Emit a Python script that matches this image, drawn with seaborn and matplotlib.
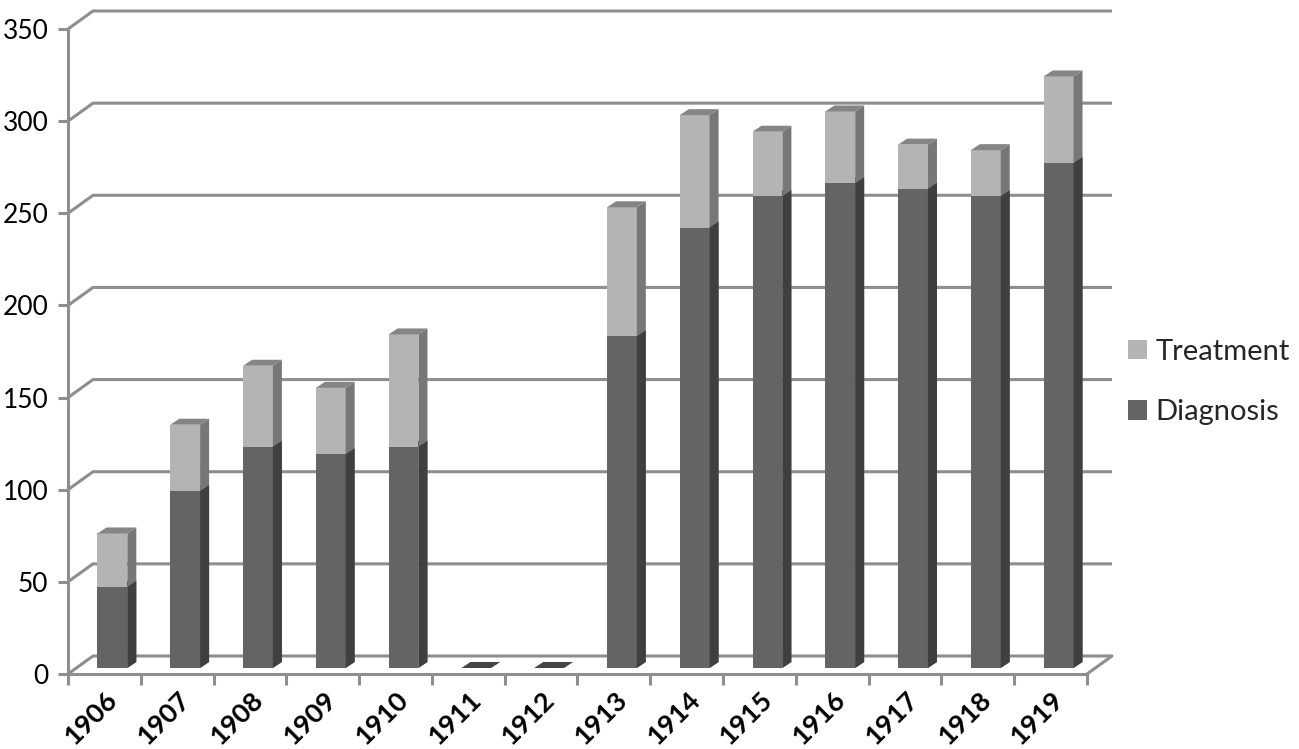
import numpy as np
import pandas as pd
import matplotlib
matplotlib.use("Agg")
import matplotlib.pyplot as plt
import seaborn as sns
from matplotlib.patches import Polygon, Patch
from matplotlib.lines import Line2D
from matplotlib.transforms import ScaledTranslation

# ---- data ----
years = ["1906", "1907", "1908", "1909", "1910", "1911", "1912",
         "1913", "1914", "1915", "1916", "1917", "1918", "1919"]
diagnosis = [44, 96, 120, 116, 120, 0, 0, 180, 239, 256, 263, 260, 256, 274]
treatment = [29, 36, 44, 36, 61, 0, 0, 70, 61, 35, 39, 24, 25, 47]
y_ticks = [0, 50, 100, 150, 200, 250, 300, 350]
series_labels = ["Treatment", "Diagnosis"]

# ---- style ----
DIAG_FRONT, DIAG_SIDE, DIAG_TOP = "#646464", "#3f3f3f", "#454545"
TREAT_FRONT, TREAT_SIDE, TREAT_TOP = "#b4b4b4", "#777777", "#858585"
GRID = "#8e8e8e"
LW = 2.2

sns.set_theme(style="white")
plt.rcParams["font.family"] = ["Lato", "DejaVu Sans"]

W, H = 1299, 749
fig = plt.figure(figsize=(W / 100, H / 100), dpi=100)
ax_l, ax_r, ax_b, ax_t = 68, 1087, 674, 29
ax = fig.add_axes([ax_l / W, (H - ax_b) / H, (ax_r - ax_l) / W, (ax_b - ax_t) / H])

n = len(years)
totals = [d + t for d, t in zip(diagnosis, treatment)]
df = pd.DataFrame({"year": years, "total": totals, "diag": diagnosis})

sns.barplot(data=df, x="year", y="total", color=TREAT_FRONT, width=0.41,
            saturation=1, ax=ax, zorder=3)
sns.barplot(data=df, x="year", y="diag", color=DIAG_FRONT, width=0.41,
            saturation=1, ax=ax, zorder=4)

ax.set_xlim(-0.5, n - 0.5)
ax.set_ylim(0, 350)

px_x = (ax_r - ax_l) / n          # pixels per category
px_y = (ax_b - ax_t) / 350.0      # pixels per unit

# bar plane offset (mid-depth)
bar_tr = ax.transData + ScaledTranslation(8 / 100, 6 / 100, fig.dpi_scale_trans)
sx, sy = 9 / px_x, 6 / px_y  # bar depth in data units

patches = list(ax.patches)
treat_patches = patches[:n]
diag_patches = patches[n:2 * n]

for p in patches:
    p.set_transform(bar_tr)
    p.set_clip_on(False)
    p.set_edgecolor("none")

def side_and_top(p, side_col, top_col, z_side, z_top):
    x0, y0 = p.get_x(), p.get_y()
    w, h = p.get_width(), p.get_height()
    x1, y1 = x0 + w, y0 + h
    side = Polygon([(x1, y0), (x1, y1), (x1 + sx, y1 + sy), (x1 + sx, y0 + sy)],
                   closed=True, facecolor=side_col, edgecolor="none",
                   transform=bar_tr, zorder=z_side, clip_on=False)
    top = Polygon([(x0, y1), (x1, y1), (x1 + sx, y1 + sy), (x0 + sx, y1 + sy)],
                  closed=True, facecolor=top_col, edgecolor="none",
                  transform=bar_tr, zorder=z_top, clip_on=False)
    ax.add_patch(side)
    ax.add_patch(top)

for pt, pd_ in zip(treat_patches, diag_patches):
    if pt.get_height() > pd_.get_height():
        side_and_top(pt, TREAT_SIDE, TREAT_TOP, 3, 3)
        side_and_top(pd_, DIAG_SIDE, DIAG_TOP, 4, 2.9)
    else:
        side_and_top(pd_, DIAG_SIDE, DIAG_TOP, 4, 4)

# ---- back wall gridlines with oblique connectors ----
gx, gy = 25 / px_x, 18 / px_y
for v in y_ticks:
    ax.add_line(Line2D([-0.5, -0.5 + gx, n - 0.5 + gx], [v, v + gy, v + gy],
                       color=GRID, lw=LW, zorder=1, clip_on=False,
                       solid_capstyle="butt"))
ax.add_line(Line2D([n - 0.5, n - 0.5 + gx], [0, gy], color=GRID, lw=LW,
                   zorder=1, clip_on=False))

# ---- axes styling ----
ax.grid(False)
for s in ["top", "right"]:
    ax.spines[s].set_visible(False)
for s in ["left", "bottom"]:
    ax.spines[s].set_color(GRID)
    ax.spines[s].set_linewidth(LW)
    ax.spines[s].set_zorder(2)

ax.set_yticks(y_ticks)
ax.set_yticklabels([str(v) for v in y_ticks])
ax.tick_params(axis="y", length=7.2, width=LW, color=GRID, direction="out",
               pad=7, labelsize=19, labelcolor="black", left=True)

ax.set_xticks(range(n))
ax.set_xticklabels(years, rotation=45, ha="right", va="center",
                   rotation_mode="anchor", fontweight="bold")
ax.set_xticks(np.arange(-0.5, n, 1.0), minor=True)
ax.tick_params(axis="x", which="major", length=0, pad=16, labelsize=19.5,
               labelcolor="black")
ax.tick_params(axis="x", which="minor", length=8, width=LW, color=GRID,
               direction="out", bottom=True)
ax.set_xlabel("")
ax.set_ylabel("")
for lab in ax.get_xticklabels():
    lab.set_transform(lab.get_transform() +
                      ScaledTranslation(9 / 100, 0, fig.dpi_scale_trans))

# ---- legend ----
handles = [Patch(facecolor=TREAT_FRONT, edgecolor="none"),
           Patch(facecolor=DIAG_FRONT, edgecolor="none")]
fig.legend(handles, series_labels, loc="upper left",
           bbox_to_anchor=(1128 / W, 1 - 339 / H), frameon=False,
           fontsize=21, handlelength=0.65, handleheight=0.65,
           handletextpad=0.3, labelspacing=1.17, borderaxespad=0,
           borderpad=0)

fig.savefig("out.png", dpi=100)
